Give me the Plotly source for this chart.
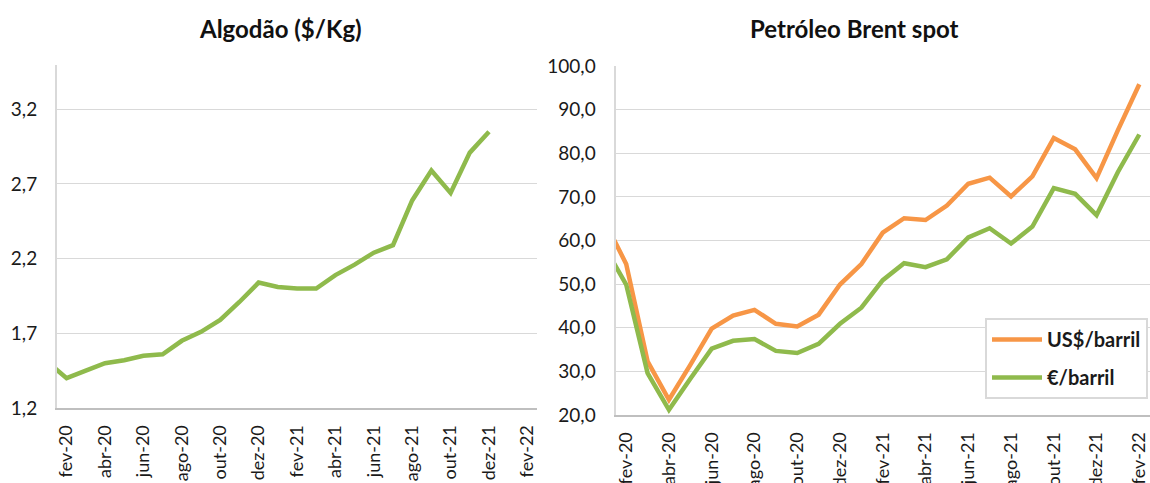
import plotly.graph_objects as go

months = ["jan-20", "fev-20", "mar-20", "abr-20", "mai-20", "jun-20", "jul-20", "ago-20",
          "set-20", "out-20", "nov-20", "dez-20", "jan-21", "fev-21", "mar-21", "abr-21",
          "mai-21", "jun-21", "jul-21", "ago-21", "set-21", "out-21", "nov-21", "dez-21",
          "jan-22", "fev-22"]

algodao = [1.51, 1.40, 1.45, 1.50, 1.52, 1.55, 1.56, 1.65, 1.71, 1.79, 1.91, 2.04,
           2.01, 2.00, 2.00, 2.09, 2.16, 2.24, 2.29, 2.59, 2.79, 2.64, 2.91, 3.05,
           None, None]

brent_usd = [64.4, 54.6, 32.3, 23.5, 31.5, 39.8, 42.8, 44.1, 40.9, 40.3, 43.0, 49.9,
             54.6, 61.8, 65.1, 64.7, 68.0, 73.0, 74.4, 70.1, 74.7, 83.5, 80.9, 74.3,
             85.3, 95.8]

brent_eur = [58.5, 49.9, 29.6, 21.2, 28.3, 35.2, 37.0, 37.4, 34.7, 34.2, 36.3, 40.9,
             44.6, 50.9, 54.8, 53.9, 55.7, 60.7, 62.8, 59.3, 63.2, 72.0, 70.7, 65.8,
             75.7, 84.3]

tick_months = months[1::2]

GREEN = "#8FBA4C"
ORANGE = "#F79646"
FONT = "Lato"
TXT = "#1a1a1a"

W, H = 1150, 483

fig = go.Figure()

fig.add_trace(go.Scatter(x=months, y=algodao, mode="lines",
                         line=dict(color=GREEN, width=4.5),
                         xaxis="x", yaxis="y", showlegend=False,
                         connectgaps=False))

fig.add_trace(go.Scatter(x=months, y=brent_usd, mode="lines", name="US$/barril",
                         line=dict(color=ORANGE, width=4.5),
                         xaxis="x2", yaxis="y2", legendgroup="a"))
fig.add_trace(go.Scatter(x=months, y=brent_eur, mode="lines", name="€/barril",
                         line=dict(color=GREEN, width=4.5),
                         xaxis="x2", yaxis="y2", legendgroup="b"))

xcommon = dict(type="category", categoryorder="array", categoryarray=months,
               range=[0.5, 25.5], tickmode="array", tickvals=tick_months,
               ticktext=tick_months, tickangle=-90, showgrid=False,
               ticks="outside", ticklen=8, tickcolor="rgba(0,0,0,0)",
               showline=True, linecolor="#BFBFBF", linewidth=2, automargin=False,
               tickfont=dict(family=FONT, size=18, color=TXT), fixedrange=True)

ycommon = dict(showgrid=True, gridcolor="#D9D9D9", gridwidth=1,
               showline=True, linecolor="#D9D9D9", linewidth=2,
               ticks="outside", ticklen=14, tickcolor="rgba(0,0,0,0)",
               zeroline=False, tickformat=".1f", automargin=False,
               tickfont=dict(family=FONT, size=19, color=TXT), fixedrange=True)

fig.update_layout(
    width=W, height=H,
    margin=dict(l=0, r=0, t=0, b=0, pad=0, autoexpand=False),
    paper_bgcolor="white", plot_bgcolor="white",
    separators=",.",
    font=dict(family=FONT, color=TXT),
    xaxis=dict(xcommon, domain=[57 / W, 537 / W], anchor="y"),
    yaxis=dict(ycommon, domain=[(H - 408) / H, (H - 64.5) / H], anchor="x",
               range=[1.2, 3.5], tick0=1.2, dtick=0.5),
    xaxis2=dict(xcommon, domain=[615.5 / W, 1.0], anchor="y2"),
    yaxis2=dict(ycommon, domain=[(H - 415) / H, (H - 66) / H], anchor="x2",
                range=[20, 100], dtick=10),
    legend=dict(x=985 / W, y=1 - 318 / H, xanchor="left", yanchor="top",
                bgcolor="white", bordercolor="#D9D9D9", borderwidth=2,
                font=dict(family=FONT, size=20, color=TXT, weight="bold"),
                tracegroupgap=9, traceorder="grouped", itemwidth=50),
    annotations=[
        dict(text="<b>Algodão ($/Kg)</b>", x=280 / W, y=1 - 28 / H, xref="paper", yref="paper",
             showarrow=False, xanchor="center", yanchor="middle",
             font=dict(family=FONT, size=24, color="#111")),
        dict(text="<b>Petróleo Brent spot</b>", x=854 / W, y=1 - 28 / H, xref="paper", yref="paper",
             showarrow=False, xanchor="center", yanchor="middle",
             font=dict(family=FONT, size=24, color="#111")),
    ],
)

fig.write_html("out.html", config={"displayModeBar": False},
               post_script="document.body.style.margin='0';document.body.style.overflow='hidden';")
